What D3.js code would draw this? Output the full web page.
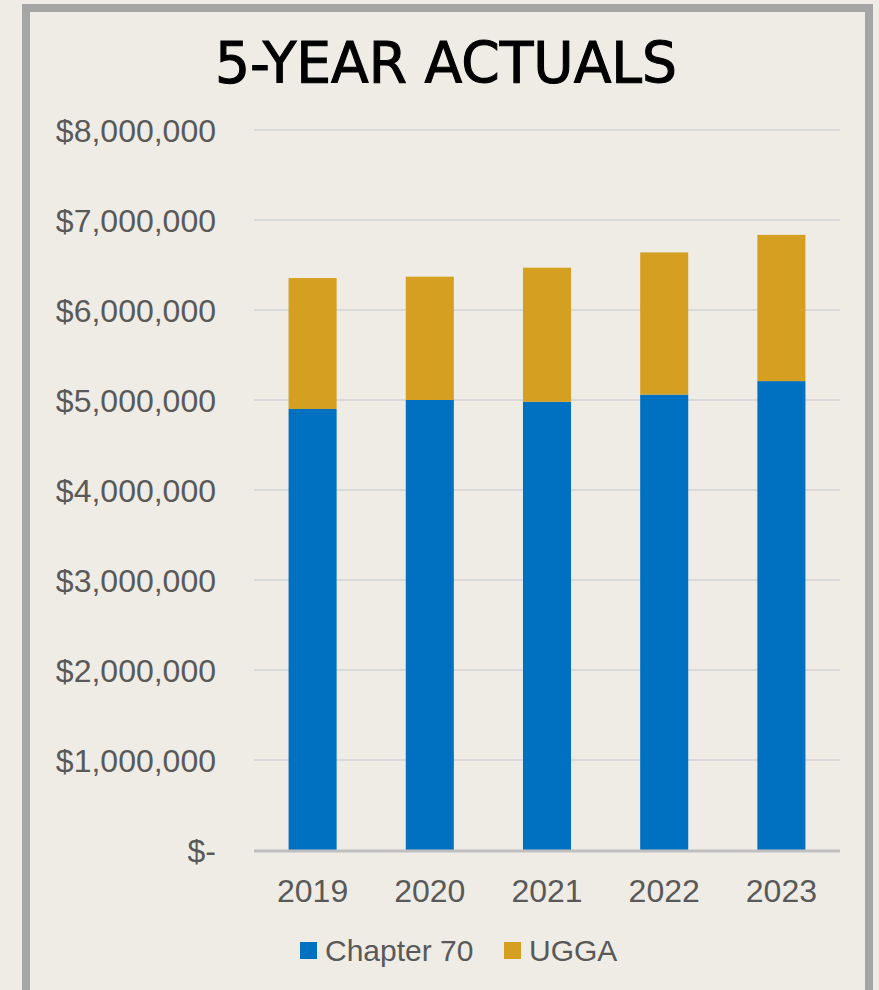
<!DOCTYPE html>
<html>
<head>
<meta charset="utf-8">
<script src="https://cdn.jsdelivr.net/npm/d3@7"></script>
<style>
  html, body { margin: 0; padding: 0; background: #efece5; }
  svg { display: block; }
</style>
</head>
<body>
<div id="chart"></div>
<script>
// values (dollars)
var years = ["2019", "2020", "2021", "2022", "2023"];
var chapter70 = [4900000, 5000000, 4980000, 5060000, 5210000];
var ugga = [1455000, 1370000, 1490000, 1580000, 1625000];
var yTicks = [0, 1000000, 2000000, 3000000, 4000000, 5000000, 6000000, 7000000, 8000000];
var seriesNames = ["Chapter 70", "UGGA"];
var seriesColors = ["#0070c0", "#d59f22"];

var width = 879, height = 990;
var plotLeft = 254, plotRight = 840, plotTop = 130, plotBottom = 850;

var svg = d3.select("#chart").append("svg")
  .attr("width", width)
  .attr("height", height);

// frame
svg.append("rect")
  .attr("x", 26).attr("y", 8)
  .attr("width", 843).attr("height", 1000)
  .attr("fill", "#efece5")
  .attr("stroke", "#a6a6a6")
  .attr("stroke-width", 8);

svg.append("text")
  .attr("x", 446)
  .attr("y", 83)
  .attr("text-anchor", "middle")
  .attr("font-family", "'Liberation Sans Narrow', 'DejaVu Sans Condensed', sans-serif")
  .attr("font-size", 57)
  .attr("textLength", 462)
  .attr("lengthAdjust", "spacingAndGlyphs")
  .attr("fill", "#000")
  .attr("stroke", "#000")
  .attr("stroke-width", 1)
  .text("5-YEAR ACTUALS");

var rows = years.map(function(y, i) {
  return { year: y, "Chapter 70": chapter70[i], "UGGA": ugga[i] };
});

var x = d3.scaleBand()
  .domain(years)
  .range([plotLeft, plotRight])
  .paddingInner(0.59)
  .paddingOuter(0.295);

var y = d3.scaleLinear()
  .domain([0, 8000000])
  .range([plotBottom, plotTop]);

var color = d3.scaleOrdinal().domain(seriesNames).range(seriesColors);

// gridlines
svg.append("g")
  .selectAll("line")
  .data(yTicks.filter(function(d) { return d > 0; }))
  .enter().append("line")
    .attr("x1", plotLeft).attr("x2", plotRight)
    .attr("y1", function(d) { return y(d); })
    .attr("y2", function(d) { return y(d); })
    .attr("stroke", "#d9d9d9")
    .attr("stroke-width", 2);

// y labels
var fmt = d3.format(",d");
svg.append("g")
  .selectAll("text")
  .data(yTicks)
  .enter().append("text")
    .attr("x", 216)
    .attr("y", function(d) { return y(d); })
    .attr("dy", "0.37em")
    .attr("text-anchor", "end")
    .attr("font-family", "'Liberation Sans', Arial, sans-serif")
    .attr("font-size", 32)
    .attr("fill", "#595959")
    .text(function(d) { return d === 0 ? "$-" : "$" + fmt(d); });

var stack = d3.stack().keys(seriesNames);
var layers = stack(rows);

svg.append("g")
  .selectAll("g")
  .data(layers)
  .enter().append("g")
    .attr("fill", function(d) { return color(d.key); })
  .selectAll("rect")
  .data(function(d) { return d; })
  .enter().append("rect")
    .attr("x", function(d) { return x(d.data.year); })
    .attr("width", x.bandwidth())
    .attr("y", function(d) { return y(d[1]); })
    .attr("height", function(d) { return y(d[0]) - y(d[1]); });

// baseline
svg.append("line")
  .attr("x1", plotLeft).attr("x2", plotRight)
  .attr("y1", plotBottom + 1).attr("y2", plotBottom + 1)
  .attr("stroke", "#bfbfbf")
  .attr("stroke-width", 3);

// x labels
svg.append("g")
  .selectAll("text")
  .data(years)
  .enter().append("text")
    .attr("x", function(d) { return x(d) + x.bandwidth() / 2; })
    .attr("y", 902)
    .attr("text-anchor", "middle")
    .attr("font-family", "'Liberation Sans', Arial, sans-serif")
    .attr("font-size", 32)
    .attr("fill", "#595959")
    .text(function(d) { return d; });

// legend
var legendX = [300, 504];
var legend = svg.append("g")
  .selectAll("g")
  .data(seriesNames)
  .enter().append("g")
    .attr("transform", function(d, i) { return "translate(" + legendX[i] + ",942)"; });

legend.append("rect")
  .attr("width", 17).attr("height", 17)
  .attr("fill", function(d) { return color(d); });

legend.append("text")
  .attr("x", 25)
  .attr("y", 19)
  .attr("font-family", "'Liberation Sans', Arial, sans-serif")
  .attr("font-size", 30)
  .attr("fill", "#595959")
  .text(function(d) { return d; });
</script>
</body>
</html>
